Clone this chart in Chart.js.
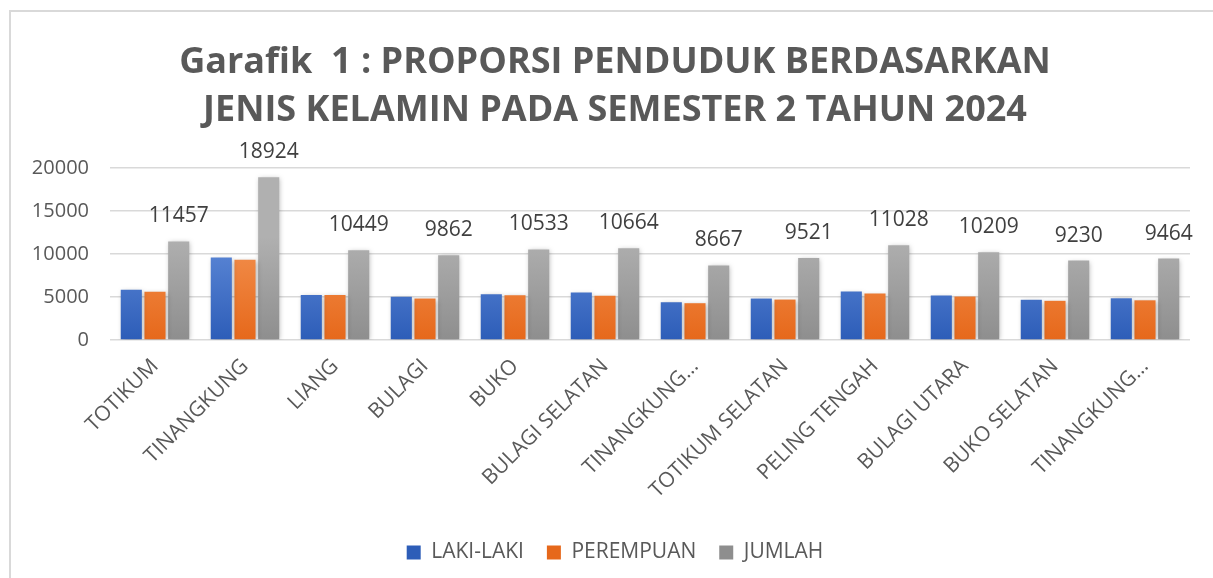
<!DOCTYPE html>
<html>
<head>
<meta charset="utf-8">
<script src="https://cdn.jsdelivr.net/npm/chart.js@4.4.1/dist/chart.umd.min.js"></script>
<style>
  html, body { margin: 0; padding: 0; background: #fff; }
  #wrap { position: relative; width: 1213px; height: 578px; overflow: hidden; }
  #frame { position: absolute; left: 9px; top: 10px; right: -10px; bottom: -10px; border-top: 2px solid #d9d9d9; border-left: 2px solid #d9d9d9; pointer-events: none; }
  canvas { position: absolute; left: 0; top: 0; }
</style>
</head>
<body>
<div id="wrap">
  <canvas id="c" width="1213" height="578"></canvas>
  <div id="frame"></div>
</div>
<script>
const categories = ["TOTIKUM", "TINANGKUNG", "LIANG", "BULAGI", "BUKO", "BULAGI SELATAN", "TINANGKUNG…", "TOTIKUM SELATAN", "PELING TENGAH", "BULAGI UTARA", "BUKO SELATAN", "TINANGKUNG…"];
const lakiLaki = [5850, 9580, 5230, 5040, 5330, 5510, 4390, 4820, 5630, 5165, 4675, 4850];
const perempuan = [5607, 9344, 5219, 4822, 5203, 5154, 4277, 4701, 5398, 5044, 4555, 4614];
const jumlah = [11457, 18924, 10449, 9862, 10533, 10664, 8667, 9521, 11028, 10209, 9230, 9464];
const seriesNames = ["LAKI-LAKI", "PEREMPUAN", "JUMLAH"];
const yTicks = [0, 5000, 10000, 15000, 20000];
const titleLines = ["Garafik  1 : PROPORSI PENDUDUK BERDASARKAN", "JENIS KELAMIN PADA SEMESTER 2 TAHUN 2024"];

function grad(top, bottom, solid) {
  return (ctx) => {
    const chart = ctx.chart;
    const a = chart.chartArea;
    if (!a) return solid;
    const g = chart.ctx.createLinearGradient(0, a.top + (a.bottom - a.top) * 0.4, 0, a.bottom);
    g.addColorStop(0, top);
    g.addColorStop(1, bottom);
    return g;
  };
}

const shadowPlugin = {
  id: 'shadow',
  beforeDatasetsDraw(chart) {
    const c = chart.ctx;
    c.save();
    c.shadowColor = 'rgba(0,0,0,0.28)';
    c.shadowBlur = 5;
    c.shadowOffsetX = 1;
    c.shadowOffsetY = 1;
  },
  afterDatasetsDraw(chart) {
    chart.ctx.restore();
    const c = chart.ctx;
    const meta = chart.getDatasetMeta(2);
    c.save();
    c.font = '21px "Open Sans"';
    c.fillStyle = '#404040';
    c.textAlign = 'center';
    c.textBaseline = 'middle';
    meta.data.forEach((bar, i) => {
      c.fillText(String(jumlah[i]), bar.x, bar.y - 25);
    });
    c.restore();
  }
};

new Chart(document.getElementById('c'), {
  type: 'bar',
  data: {
    labels: categories,
    datasets: [
      { label: seriesNames[0], data: lakiLaki, backgroundColor: grad('#5F8AD8', '#2D5DB8', '#4472C4') },
      { label: seriesNames[1], data: perempuan, backgroundColor: grad('#F3914F', '#E6681B', '#ED7D31') },
      { label: seriesNames[2], data: jumlah, backgroundColor: grad('#B0B0B0', '#8E8E8E', '#A5A5A5') }
    ]
  },
  options: {
    responsive: false,
    animation: false,
    devicePixelRatio: 1,
    layout: { padding: { left: 40, right: 23, top: 0, bottom: 5 } },
    datasets: { bar: { categoryPercentage: 0.79, barPercentage: 0.89 } },
    plugins: {
      title: {
        display: true,
        text: titleLines,
        color: '#595959',
        font: { family: '"Open Sans"', size: 36, weight: 'bold', lineHeight: 1.333 },
        padding: { top: 39, bottom: 33 }
      },
      legend: {
        position: 'bottom',
        labels: {
          color: '#595959',
          font: { family: '"Open Sans"', size: 21 },
          boxWidth: 14,
          boxHeight: 14,
          padding: 23
        }
      },
      tooltip: { enabled: false }
    },
    scales: {
      x: {
        grid: { display: false },
        border: { display: false },
        ticks: {
          color: '#595959',
          font: { family: '"Open Sans"', size: 21 },
          minRotation: 45,
          maxRotation: 45,
          autoSkip: false,
          padding: 6
        },
        afterFit(scale) { scale.height = 179; }
      },
      y: {
        min: 0,
        max: 20000,
        afterBuildTicks(scale) { scale.ticks = yTicks.map(v => ({ value: v })); },
        grid: { color: '#d9d9d9', lineWidth: 1.5, drawTicks: false },
        border: { display: false },
        ticks: {
          color: '#595959',
          font: { family: '"Open Sans"', size: 20 },
          padding: 21,
          callback: (v) => String(v)
        },
        afterFit(scale) {
          scale.width = 70;
          scale._computeLabelArea = function () { return undefined; };
        }
      }
    }
  },
  plugins: [shadowPlugin]
});
</script>
</body>
</html>
